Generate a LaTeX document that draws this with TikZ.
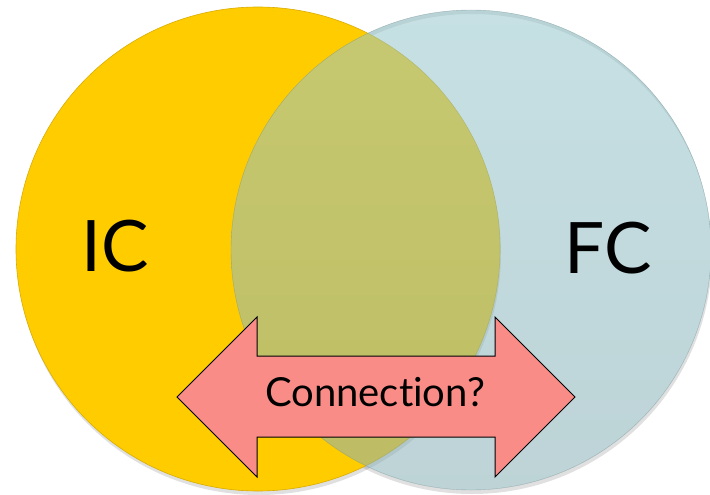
\documentclass[tikz,border=0pt]{standalone}
\usepackage{fontspec}
\setmainfont{Lato}[Ligatures=NoCommon]
\usepackage{tikz}
\usetikzlibrary{calc,positioning,shadings}
\definecolor{icyellow}{RGB}{255,204,0}
\definecolor{fcblue}{RGB}{152,200,206}
\definecolor{fcbluedark}{RGB}{136,176,182}
\definecolor{arrowred}{RGB}{250,140,135}
\tikzset{%
  font=\normalsize,>=latex,
  setic/.style={fill=icyellow,draw=icyellow!85!black,line width=0.6pt},
  setfc/.style={top color=fcblue,bottom color=fcbluedark,draw=fcblue!70!black,line width=0.4pt,fill opacity=.55,draw opacity=.5},
  drop/.style={fill=black,opacity=.12,even odd rule},
  lbl/.style={inner sep=0pt,font=\fontsize{71}{71}\selectfont},
  conn/.style={fill=arrowred,draw=black,line width=1pt,line join=miter}
}
\begin{document}
\begin{tikzpicture}[x=1pt,y=-1pt]
	\useasboundingbox[fill=white] (0,0) rectangle (710,495);
	% shadows
	\fill[drop] (259,253) circle (242);
	\fill[drop] (472,254) circle (240) (471,250) circle (240);
	% the two sets
	\path[setic] (258,249) circle (242);
	\path[setfc] (471,250) circle (240);
	\node[lbl] (ic) at (115,246) {IC};
	\node[lbl] (fc) at (608,248) {FC};
	% double arrow
	\draw[conn] (177,397) -- (257,317) -- (257,356) -- (495,356) -- (495,317)
		-- (575,397) -- (495,477) -- (495,437) -- (257,437) -- (257,477) -- cycle;
	\node[inner sep=0pt,font=\fontsize{40}{40}\selectfont] (conn) at (375,392) {Connection?};
\end{tikzpicture}
\end{document}
